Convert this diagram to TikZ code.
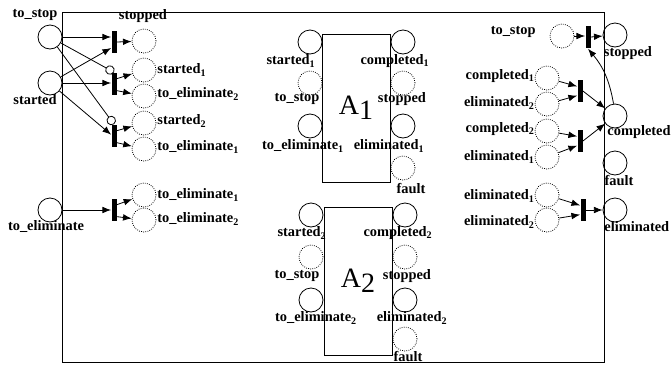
\documentclass[tikz,border=0pt]{standalone}
\usepackage{fontspec}
\setmainfont{Liberation Serif}
\usetikzlibrary{positioning,arrows.meta}

\begin{document}
\begin{tikzpicture}[x=0.75pt, y=-0.75pt, semithick,
  place/.style={draw, circle, minimum size=18pt, inner sep=0pt},
  port/.style={place, densely dotted},
  trans/.style={fill=black, minimum width=3.75pt, minimum height=17pt, inner sep=0pt},
  act/.style={draw, minimum width=51pt, minimum height=111pt, inner sep=0pt, font=\fontsize{21}{24}\selectfont},
  lab/.style={font=\bfseries\fontsize{10.8}{12}\selectfont, inner sep=0pt},
  arr/.style={-{Latex[length=6.5pt,width=5pt]}},
  inh/.style={-{Circle[open,length=7pt]}}
]
\useasboundingbox (0,0) rectangle (672,365);
\draw (62,12) rectangle (604,362);

% left: start / stop / eliminate of the activities
\node[place] (tostop) at (50,37) {};
\node[place] (started) at (50,83) {};
\node[place] (toelim) at (50,210) {};
\node[lab] (l-tostop) at (35,15) {to\_stop};
\node[lab] (l-started) at (35,100) {started};
\node[lab] (l-toelim) at (46,227) {to\_eliminate};

\node[trans] (t1) at (114,42) {};
\node[trans] (t2) at (114,84) {};
\node[trans] (t3) at (114,136) {};
\node[trans] (t4) at (114,210) {};

\node[port] (stop0) at (144,41) {};
\node[port] (st1) at (144,70) {};
\node[port] (te2) at (144,96) {};
\node[port] (st2) at (144,123) {};
\node[port] (te1) at (144,149) {};
\node[port] (te1b) at (144,195) {};
\node[port] (te2b) at (144,220) {};
\node[lab] (l-stop0) at (143,16) {stopped};
\node[lab, anchor=west] (l-st1) at (157,70) {started\textsubscript{1}};
\node[lab, anchor=west] (l-te2) at (157,94) {to\_eliminate\textsubscript{2}};
\node[lab, anchor=west] (l-st2) at (157,121) {started\textsubscript{2}};
\node[lab, anchor=west] (l-te1) at (157,147) {to\_eliminate\textsubscript{1}};
\node[lab, anchor=west] (l-te1b) at (157,195) {to\_eliminate\textsubscript{1}};
\node[lab, anchor=west] (l-te2b) at (157,219) {to\_eliminate\textsubscript{2}};

\draw[arr] (tostop) -- (tostop -| t1.west);
\draw[arr] (started) -- ([yshift=-4.5pt]t1.west);
\draw[arr] (started) -- (started -| t2.west);
\draw[arr] (started) -- ([yshift=1pt]t3.west);
\draw[inh] (tostop) -- (t2.north);
\draw[inh] (tostop) -- (t3.north);
\draw[arr] (t1.east) -- (stop0);
\draw[arr] ([yshift=4pt]t2.east) -- (st1);
\draw[arr] ([yshift=-5pt]t2.east) -- (te2);
\draw[arr] ([yshift=4pt]t3.east) -- (st2);
\draw[arr] ([yshift=-5pt]t3.east) -- (te1);
\draw[arr] (toelim) -- (toelim -| t4.west);
\draw[arr] ([yshift=4pt]t4.east) -- (te1b);
\draw[arr] ([yshift=-5pt]t4.east) -- (te2b);

% middle: the two activities
\node[act] (a1) at (356,108) {A\raisebox{-.35ex}{1}};
\node[act] (a2) at (358,281) {A\raisebox{-.35ex}{2}};

\node[place] (a1-st) at (310,42) {};
\node[port] (a1-ts) at (310,83) {};
\node[place] (a1-te) at (310,126) {};
\node[place] (a1-co) at (403,42) {};
\node[port] (a1-sp) at (403,83) {};
\node[place] (a1-el) at (403,126) {};
\node[port] (a1-fa) at (403,168) {};
\node[lab] (l-a1-st) at (291,61) {started\textsubscript{1}};
\node[lab] (l-a1-ts) at (297,99) {to\_stop};
\node[lab] (l-a1-te) at (303,146) {to\_eliminate\textsubscript{1}};
\node[lab] (l-a1-co) at (395,61) {completed\textsubscript{1}};
\node[lab] (l-a1-sp) at (402,99) {stopped};
\node[lab] (l-a1-el) at (389,146) {eliminated\textsubscript{1}};
\node[lab] (l-a1-fa) at (411,189) {fault};

\node[place] (a2-st) at (311,215) {};
\node[port] (a2-ts) at (311,257) {};
\node[place] (a2-te) at (311,300) {};
\node[place] (a2-co) at (405,215) {};
\node[port] (a2-sp) at (405,257) {};
\node[place] (a2-el) at (405,300) {};
\node[port] (a2-fa) at (405,339) {};
\node[lab] (l-a2-st) at (302,233) {started\textsubscript{2}};
\node[lab] (l-a2-ts) at (297,276) {to\_stop};
\node[lab] (l-a2-te) at (316,318) {to\_eliminate\textsubscript{2}};
\node[lab] (l-a2-co) at (398,233) {completed\textsubscript{2}};
\node[lab] (l-a2-sp) at (407,276) {stopped};
\node[lab] (l-a2-el) at (412,318) {eliminated\textsubscript{2}};
\node[lab] (l-a2-fa) at (408,357) {fault};

% right: results
\node[port] (r-ts) at (562,36) {};
\node[port] (r-c1) at (547,78) {};
\node[port] (r-e2) at (547,104) {};
\node[port] (r-c2) at (547,131) {};
\node[port] (r-e1) at (547,157) {};
\node[port] (r-e1b) at (547,195) {};
\node[port] (r-e2b) at (547,220) {};
\node[lab, anchor=east] (l-r-ts) at (536,32) {to\_stop};
\node[lab, anchor=east] (l-r-c1) at (535,76) {completed\textsubscript{1}};
\node[lab, anchor=east] (l-r-e2) at (535,103) {eliminated\textsubscript{2}};
\node[lab, anchor=east] (l-r-c2) at (535,129) {completed\textsubscript{2}};
\node[lab, anchor=east] (l-r-e1) at (535,157) {eliminated\textsubscript{1}};
\node[lab, anchor=east] (l-r-e1b) at (535,196) {eliminated\textsubscript{1}};
\node[lab, anchor=east] (l-r-e2b) at (535,222) {eliminated\textsubscript{2}};

\node[trans] (t5) at (588,37) {};
\node[trans] (t6) at (580,91) {};
\node[trans] (t7) at (580,141) {};
\node[trans] (t8) at (583,210) {};

\node[place] (stopped) at (615,35) {};
\node[place] (completed) at (615,116) {};
\node[place] (fault) at (615,163) {};
\node[place] (eliminated) at (615,210) {};
\node[lab] (l-stopped) at (628,53) {stopped};
\node[lab] (l-completed) at (639,132) {completed};
\node[lab] (l-fault) at (619,181) {fault};
\node[lab, anchor=west] (l-eliminated) at (604,227) {eliminated};

\draw[arr] (r-ts) -- (r-ts -| t5.west);
\draw[arr] (t5.east) -- (stopped);
\draw[arr] (r-c1) -- ([yshift=3.5pt]t6.west);
\draw[arr] (r-e2) -- ([yshift=-3.5pt]t6.west);
\draw[arr] (t6.east) -- (completed);
\draw[arr] (r-c2) -- ([yshift=3.5pt]t7.west);
\draw[arr] (r-e1) -- ([yshift=-3.5pt]t7.west);
\draw[arr] (t7.east) -- (completed);
\draw[arr] (completed) to[bend right=15] (t5.south);
\draw[arr] (r-e1b) -- ([yshift=3.5pt]t8.west);
\draw[arr] (r-e2b) -- ([yshift=-3.5pt]t8.west);
\draw[arr] (t8.east) -- (eliminated);
\end{tikzpicture}
\end{document}
